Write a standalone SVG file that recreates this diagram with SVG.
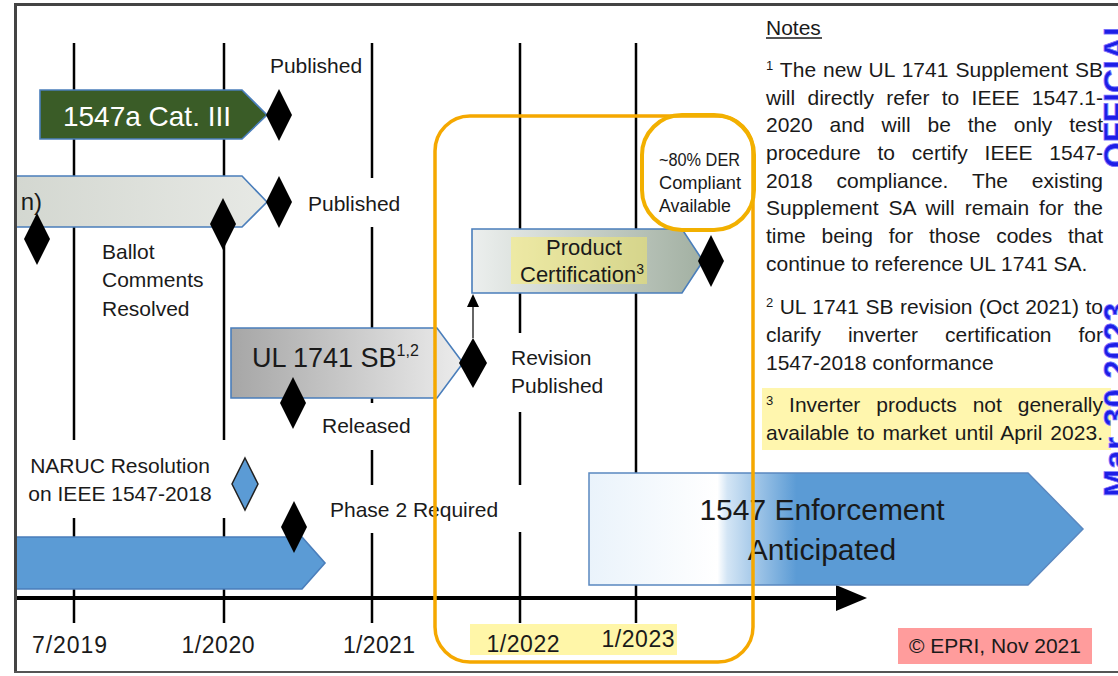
<svg xmlns="http://www.w3.org/2000/svg" width="1118" height="676" viewBox="0 0 1118 676" font-size="21">
<defs>
<style>
.t{font-family:"Liberation Sans",Arial,sans-serif;fill:#1a1a1a}
.grid{stroke:#000;stroke-width:2.5;fill:none}
.dia{fill:#000}
.bar{stroke:#4A7EBB;stroke-width:1.6}
.wm{font-family:"Liberation Sans",Arial,sans-serif;font-weight:bold;fill:#1E1EE6;stroke:#7A7AFF;stroke-width:0.8}
</style>
<linearGradient id="gGray" x1="0" y1="0" x2="1" y2="0"><stop offset="0" stop-color="#D2D6CF"/><stop offset="1" stop-color="#E7E9E5"/></linearGradient>
<linearGradient id="gUL" x1="0" y1="0" x2="1" y2="0"><stop offset="0" stop-color="#A6A6A6"/><stop offset="1" stop-color="#ECECEC"/></linearGradient>
<linearGradient id="gProd" x1="0" y1="0" x2="1" y2="0"><stop offset="0" stop-color="#ECEFEE"/><stop offset="1" stop-color="#A2B0A2"/></linearGradient>
<linearGradient id="gEnf" x1="0" y1="0" x2="1" y2="0"><stop offset="0" stop-color="#EAF3FB"/><stop offset="0.26" stop-color="#FFFFFF"/><stop offset="0.28" stop-color="#D3E5F5"/><stop offset="0.42" stop-color="#5B9BD5"/><stop offset="1" stop-color="#5B9BD5"/></linearGradient>
<clipPath id="frameClip"><rect x="17" y="6" width="1101" height="665"/></clipPath>
</defs>
<rect x="0" y="0" width="1118" height="676" fill="#fff"/>

<rect x="470" y="624" width="207" height="31" fill="#FFF6A8"/>
<rect x="762" y="388" width="349" height="62" fill="#FFF6AE"/>

<g id="connectors">
  <line class="grid" x1="74" y1="43" x2="74" y2="440"/>
  <line class="grid" x1="74" y1="518" x2="74" y2="623"/>
  <line class="grid" x1="224" y1="43" x2="224" y2="440"/>
  <line class="grid" x1="224" y1="518" x2="224" y2="623"/>
  <line class="grid" x1="372" y1="43" x2="372" y2="178"/>
  <line class="grid" x1="372" y1="227" x2="372" y2="403"/>
  <line class="grid" x1="372" y1="450" x2="372" y2="485"/>
  <line class="grid" x1="372" y1="533" x2="372" y2="623"/>
  <line class="grid" x1="520" y1="43" x2="520" y2="333"/>
  <line class="grid" x1="520" y1="412" x2="520" y2="485"/>
  <line class="grid" x1="520" y1="532" x2="520" y2="623"/>
  <line class="grid" x1="636" y1="43" x2="636" y2="623"/>
  <line x1="17" y1="598" x2="840" y2="598" stroke="#000" stroke-width="4"/>
  <polygon points="836,585 867,598 836,611" fill="#000"/>
  <line x1="473" y1="338" x2="473" y2="305" stroke="#333" stroke-width="1.5"/>
  <polygon points="473,294 467,307 479,307" fill="#000"/>
</g>

<g clip-path="url(#frameClip)">
<g id="bar-ieee1547">
  <polygon class="bar" points="0,176 242,176 267,202 242,227 0,227" fill="url(#gGray)"/>
  <text class="t" x="42" y="210" font-size="24" text-anchor="end">n)</text>
</g>
<g id="bar-blue">
  <polygon class="bar" points="0,537 302,537 325,563 302,589 0,589" fill="#5B9BD5"/>
</g>
</g>

<g id="bar-1547a">
  <polygon class="bar" points="40,90 242,90 267,115 242,139 40,139" fill="#3A5C27"/>
  <text class="t" x="147" y="126" font-size="28" text-anchor="middle" style="fill:#fff">1547a Cat. III</text>
</g>

<g id="bar-ul1741sb">
  <polygon class="bar" points="231,328 437,328 463,363 437,398 231,398" fill="url(#gUL)"/>
  <text class="t" x="252" y="367" font-size="27">UL 1741 SB<tspan font-size="16" dy="-11">1,2</tspan></text>
</g>

<g id="bar-product-cert">
  <polygon class="bar" points="472,229 682,229 703,261 682,293 472,293" fill="url(#gProd)"/>
  <rect x="511" y="237" width="136" height="47" fill="#FFEF5A" opacity="0.45"/>
  <text class="t" x="584" y="255" font-size="22" text-anchor="middle">Product</text>
  <text class="t" x="520" y="282" font-size="22">Certification<tspan font-size="14" dy="-8">3</tspan></text>
</g>

<g id="bar-enforcement">
  <polygon points="589,473 1028,473 1083,529 1028,585 589,585" fill="url(#gEnf)" stroke="#5A88C0" stroke-width="1.5"/>
  <text class="t" x="822" y="520" font-size="30" text-anchor="middle">1547 Enforcement</text>
  <text class="t" x="822" y="560" font-size="30" text-anchor="middle">Anticipated</text>
</g>

<g id="milestones">
  <polygon class="dia" points="279,89 292,115 279,141 266,115"/>
  <polygon class="dia" points="279,176 292,202 279,228 266,202"/>
  <polygon class="dia" points="37,213 50,239 37,265 24,239"/>
  <polygon class="dia" points="223,198 236,224 223,250 210,224"/>
  <polygon class="dia" points="293,377 306,403 293,429 280,403"/>
  <polygon class="dia" points="294,501 307,527 294,553 281,527"/>
  <polygon class="dia" points="473,338 487,363 473,388 459,363"/>
  <polygon class="dia" points="711,235 724,261 711,287 698,261"/>
  <polygon points="245,458 258,484 245,510 232,484" fill="#5B9BD5" stroke="#222" stroke-width="1.5"/>
</g>

<g id="labels">
  <text class="t" x="316" y="73" text-anchor="middle">Published</text>
  <text class="t" x="308" y="211">Published</text>
  <text class="t" x="102" y="259">Ballot</text>
  <text class="t" x="102" y="287">Comments</text>
  <text class="t" x="102" y="316">Resolved</text>
  <text class="t" x="322" y="433">Released</text>
  <text class="t" x="120" y="473" text-anchor="middle">NARUC Resolution</text>
  <text class="t" x="120" y="501" text-anchor="middle">on IEEE 1547-2018</text>
  <text class="t" x="330" y="517">Phase 2 Required</text>
  <text class="t" x="511" y="365">Revision</text>
  <text class="t" x="511" y="393">Published</text>
</g>

<g id="dates" font-size="23">
  <text class="t" x="69.5" y="653" text-anchor="middle" textLength="75">7/2019</text>
  <text class="t" x="218" y="653" text-anchor="middle" textLength="73">1/2020</text>
  <text class="t" x="379" y="653" text-anchor="middle" textLength="72">1/2021</text>
  <text class="t" x="523" y="652" text-anchor="middle" textLength="73">1/2022</text>
  <text class="t" x="638" y="647" text-anchor="middle" textLength="73">1/2023</text>
</g>

<g id="focus-box">
  <rect x="435" y="116" width="318" height="546" rx="35" fill="none" stroke="#F5A800" stroke-width="3.5"/>
  <rect x="642" y="115" width="112" height="115" rx="40" fill="none" stroke="#F2B000" stroke-width="4"/>
  <text class="t" x="659" y="166" font-size="18" textLength="81" lengthAdjust="spacingAndGlyphs">~80% DER</text>
  <text class="t" x="659" y="189" font-size="18" textLength="82" lengthAdjust="spacingAndGlyphs">Compliant</text>
  <text class="t" x="659" y="212" font-size="18" textLength="72" lengthAdjust="spacingAndGlyphs">Available</text>
</g>

<g id="notes">
  <text class="t" x="766" y="35">Notes</text>
  <line x1="766" y1="38" x2="822" y2="38" stroke="#1a1a1a" stroke-width="1.5"/>
  <text class="t" x="766" y="77" word-spacing="1" textLength="337" lengthAdjust="spacing"><tspan font-size="13" dy="-7">1</tspan><tspan dy="7"> The new UL 1741 Supplement SB</tspan></text>
  <text class="t" x="766" y="105" word-spacing="6.5" textLength="337" lengthAdjust="spacing">will directly refer to IEEE 1547.1-</text>
  <text class="t" x="766" y="132" word-spacing="11" textLength="337" lengthAdjust="spacing">2020 and will be the only test</text>
  <text class="t" x="766" y="160" word-spacing="11" textLength="337" lengthAdjust="spacing">procedure to certify IEEE 1547-</text>
  <text class="t" x="766" y="188" word-spacing="18" textLength="337" lengthAdjust="spacing">2018 compliance. The existing</text>
  <text class="t" x="766" y="215" word-spacing="4" textLength="337" lengthAdjust="spacing">Supplement SA will remain for the</text>
  <text class="t" x="766" y="243" word-spacing="10" textLength="337" lengthAdjust="spacing">time being for those codes that</text>
  <text class="t" x="766" y="271">continue to reference UL 1741 SA.</text>
  <text class="t" x="766" y="314" word-spacing="0.5" textLength="337" lengthAdjust="spacing"><tspan font-size="13" dy="-7">2</tspan><tspan dy="7"> UL 1741 SB revision (Oct 2021) to</tspan></text>
  <text class="t" x="766" y="342" word-spacing="21" textLength="337" lengthAdjust="spacing">clarify inverter certification for</text>
  <text class="t" x="766" y="370">1547-2018 conformance</text>
  <text class="t" x="766" y="412" word-spacing="10" textLength="337" lengthAdjust="spacing"><tspan font-size="13" dy="-7">3</tspan><tspan dy="7"> Inverter products not generally</tspan></text>
  <text class="t" x="766" y="440" word-spacing="2" textLength="337" lengthAdjust="spacing">available to market until April 2023.</text>
</g>

<g id="copyright">
  <rect x="898" y="628" width="194" height="36" fill="#FF9C9C"/>
  <text class="t" x="995" y="653" text-anchor="middle">© EPRI, Nov 2021</text>
</g>

<g id="watermark" font-size="33">
  <text class="wm" transform="translate(1127,168) rotate(-90)" textLength="152">OFFICIAL</text>
  <text class="wm" transform="translate(1127,497) rotate(-90)" textLength="194">Mar 30 2023</text>
</g>

<g id="frame">
  <line x1="14" y1="4.5" x2="1118" y2="4.5" stroke="#444" stroke-width="3"/>
  <line x1="15.5" y1="3" x2="15.5" y2="673" stroke="#444" stroke-width="3"/>
  <line x1="14" y1="672" x2="1118" y2="672" stroke="#555" stroke-width="2"/>
</g>
</svg>
